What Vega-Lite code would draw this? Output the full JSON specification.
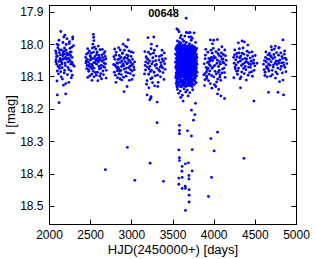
{
"$schema": "https://vega.github.io/schema/vega-lite/v6.json",
"width": 247, "height": 219,
"autosize": {"type": "none"},
"padding": {"left": 49, "top": 5, "right": 20, "bottom": 35},
"config": {"view": {"stroke": "#000", "strokeWidth": 1}, "font": "Liberation Sans"},
"title": {"text": "00648", "font": "Liberation Sans", "fontSize": 11, "fontWeight": "bold", "color": "#000", "anchor": "middle", "baseline": "alphabetic", "offset": 0, "dx": -9, "dy": 23},
"data": {"values": [
{"hjd":2080,"mag":18.021},{"hjd":2212,"mag":18.047},{"hjd":2143,"mag":17.961},{"hjd":2265,"mag":18.062},{"hjd":2101,"mag":18.083},{"hjd":2188,"mag":18.012},{"hjd":2236,"mag":18.031},{"hjd":2119,"mag":18.054},{"hjd":2297,"mag":18.005},{"hjd":2160,"mag":18.073},{"hjd":2091,"mag":18.039},{"hjd":2224,"mag":18.094},{"hjd":2173,"mag":18.028},{"hjd":2250,"mag":17.992},{"hjd":2133,"mag":18.066},{"hjd":2281,"mag":18.041},{"hjd":2107,"mag":18.011},{"hjd":2196,"mag":18.058},{"hjd":2149,"mag":18.101},{"hjd":2270,"mag":18.024},{"hjd":2085,"mag":18.048},{"hjd":2218,"mag":17.983},{"hjd":2166,"mag":18.036},{"hjd":2243,"mag":18.079},{"hjd":2125,"mag":18.017},{"hjd":2290,"mag":18.063},{"hjd":2178,"mag":18.045},{"hjd":2097,"mag":18.114},{"hjd":2206,"mag":18.019},{"hjd":2258,"mag":18.052},{"hjd":2139,"mag":18.033},{"hjd":2229,"mag":18.072},{"hjd":2113,"mag":18.003},{"hjd":2184,"mag":18.089},{"hjd":2276,"mag":18.009},{"hjd":2155,"mag":18.057},{"hjd":2088,"mag":18.029},{"hjd":2240,"mag":18.118},{"hjd":2201,"mag":18.041},{"hjd":2128,"mag":18.075},{"hjd":2262,"mag":18.035},{"hjd":2170,"mag":17.995},{"hjd":2305,"mag":18.068},{"hjd":2146,"mag":18.051},{"hjd":2215,"mag":18.027},{"hjd":2094,"mag":18.062},{"hjd":2190,"mag":18.081},{"hjd":2254,"mag":18.013},{"hjd":2136,"mag":18.044},{"hjd":2283,"mag":18.096},{"hjd":2179,"mag":18.022},{"hjd":2103,"mag":18.037},{"hjd":2232,"mag":18.055},{"hjd":2163,"mag":18.108},{"hjd":2121,"mag":17.988},{"hjd":2247,"mag":18.046},{"hjd":2198,"mag":18.066},{"hjd":2288,"mag":17.978},{"hjd":2151,"mag":18.018},{"hjd":2083,"mag":18.055},{"hjd":2222,"mag":18.034},{"hjd":2175,"mag":18.127},{"hjd":2268,"mag":18.083},{"hjd":2131,"mag":18.049},{"hjd":2208,"mag":18.001},{"hjd":2116,"mag":18.092},{"hjd":2193,"mag":17.972},{"hjd":2256,"mag":18.025},{"hjd":2158,"mag":18.061},{"hjd":2099,"mag":18.0},{"hjd":2237,"mag":18.043},{"hjd":2142,"mag":18.085},{"hjd":2279,"mag":18.056},{"hjd":2186,"mag":18.031},{"hjd":2110,"mag":18.069},{"hjd":2203,"mag":18.122},{"hjd":2245,"mag":17.998},{"hjd":2168,"mag":18.047},{"hjd":2126,"mag":18.026},{"hjd":2271,"mag":18.104},
{"hjd":2101,"mag":18.157},{"hjd":2203,"mag":18.154},{"hjd":2122,"mag":18.181},{"hjd":2179,"mag":17.978},{"hjd":2288,"mag":17.984},
{"hjd":2445,"mag":18.041},{"hjd":2580,"mag":18.062},{"hjd":2512,"mag":18.028},{"hjd":2655,"mag":18.083},{"hjd":2478,"mag":18.055},{"hjd":2620,"mag":18.017},{"hjd":2548,"mag":18.074},{"hjd":2690,"mag":18.046},{"hjd":2495,"mag":18.098},{"hjd":2605,"mag":18.035},{"hjd":2462,"mag":18.066},{"hjd":2570,"mag":18.051},{"hjd":2638,"mag":18.107},{"hjd":2527,"mag":18.012},{"hjd":2672,"mag":18.059},{"hjd":2486,"mag":18.079},{"hjd":2591,"mag":18.043},{"hjd":2540,"mag":18.025},{"hjd":2660,"mag":18.069},{"hjd":2503,"mag":18.049},{"hjd":2628,"mag":18.091},{"hjd":2455,"mag":18.031},{"hjd":2563,"mag":18.088},{"hjd":2683,"mag":18.038},{"hjd":2519,"mag":18.063},{"hjd":2598,"mag":18.006},{"hjd":2471,"mag":18.103},{"hjd":2645,"mag":18.053},{"hjd":2535,"mag":18.044},{"hjd":2612,"mag":18.077},{"hjd":2490,"mag":18.021},{"hjd":2575,"mag":18.096},{"hjd":2667,"mag":18.029},{"hjd":2508,"mag":18.071},{"hjd":2449,"mag":18.058},{"hjd":2557,"mag":18.038},{"hjd":2633,"mag":18.065},{"hjd":2697,"mag":18.081},{"hjd":2523,"mag":18.112},{"hjd":2585,"mag":18.024},{"hjd":2466,"mag":18.047},{"hjd":2650,"mag":18.041},{"hjd":2543,"mag":18.057},{"hjd":2617,"mag":18.099},{"hjd":2499,"mag":18.036},{"hjd":2676,"mag":18.072},{"hjd":2568,"mag":18.015},{"hjd":2482,"mag":18.084},{"hjd":2602,"mag":18.055},{"hjd":2530,"mag":18.067},{"hjd":2641,"mag":18.033},{"hjd":2458,"mag":18.076},{"hjd":2593,"mag":18.113},{"hjd":2515,"mag":18.045},{"hjd":2686,"mag":18.061},{"hjd":2552,"mag":18.009},{"hjd":2624,"mag":18.048},{"hjd":2474,"mag":18.027},{"hjd":2661,"mag":18.094},{"hjd":2538,"mag":18.084},{"hjd":2607,"mag":18.069},{"hjd":2493,"mag":18.062},{"hjd":2579,"mag":18.032},{"hjd":2648,"mag":18.016},{"hjd":2520,"mag":18.093},{"hjd":2452,"mag":18.052},{"hjd":2566,"mag":18.046},{"hjd":2694,"mag":18.105},{"hjd":2504,"mag":18.039},{"hjd":2631,"mag":18.074},{"hjd":2588,"mag":18.087},{"hjd":2469,"mag":18.014},{"hjd":2547,"mag":18.101},{"hjd":2665,"mag":18.048},{"hjd":2525,"mag":18.076},{"hjd":2615,"mag":18.042},{"hjd":2484,"mag":18.068},{"hjd":2679,"mag":18.023},{"hjd":2560,"mag":18.058},{"hjd":2596,"mag":18.05},
{"hjd":2539,"mag":17.970},{"hjd":2542,"mag":17.979},{"hjd":2545,"mag":17.989},{"hjd":2533,"mag":18.0},
{"hjd":2785,"mag":18.063},{"hjd":2920,"mag":18.041},{"hjd":2851,"mag":18.078},{"hjd":2993,"mag":18.057},{"hjd":2816,"mag":18.025},{"hjd":2958,"mag":18.089},{"hjd":2886,"mag":18.052},{"hjd":3030,"mag":18.071},{"hjd":2832,"mag":18.104},{"hjd":2943,"mag":18.033},{"hjd":2800,"mag":18.047},{"hjd":2908,"mag":18.067},{"hjd":2976,"mag":18.112},{"hjd":2865,"mag":18.018},{"hjd":3010,"mag":18.083},{"hjd":2824,"mag":18.058},{"hjd":2929,"mag":18.006},{"hjd":2878,"mag":18.094},{"hjd":2998,"mag":18.038},{"hjd":2841,"mag":18.072},{"hjd":2966,"mag":18.049},{"hjd":2793,"mag":18.087},{"hjd":2901,"mag":18.061},{"hjd":3021,"mag":18.026},{"hjd":2857,"mag":18.045},{"hjd":2936,"mag":18.099},{"hjd":2810,"mag":18.034},{"hjd":2983,"mag":18.068},{"hjd":2872,"mag":18.081},{"hjd":3040,"mag":18.055},{"hjd":2846,"mag":18.011},{"hjd":2913,"mag":18.077},{"hjd":2950,"mag":18.043},{"hjd":2806,"mag":18.096},{"hjd":2893,"mag":18.029},{"hjd":3004,"mag":18.065},{"hjd":2836,"mag":18.059},{"hjd":2971,"mag":18.021},{"hjd":2862,"mag":18.107},{"hjd":2924,"mag":18.054},{"hjd":2788,"mag":18.039},{"hjd":2988,"mag":18.091},{"hjd":2881,"mag":18.069},{"hjd":3015,"mag":18.047},{"hjd":2829,"mag":18.082},{"hjd":2945,"mag":18.061},{"hjd":2797,"mag":18.015},{"hjd":2904,"mag":18.102},{"hjd":2962,"mag":18.036},{"hjd":2868,"mag":18.056},{"hjd":3026,"mag":18.097},{"hjd":2819,"mag":18.07},{"hjd":2939,"mag":18.074},{"hjd":2890,"mag":18.027},{"hjd":2980,"mag":18.051},{"hjd":2849,"mag":18.092},{"hjd":2916,"mag":18.019},{"hjd":3008,"mag":18.109},{"hjd":2804,"mag":18.066},{"hjd":2955,"mag":18.058},{"hjd":2875,"mag":18.041},{"hjd":3035,"mag":18.079},{"hjd":2838,"mag":18.048},{"hjd":2931,"mag":18.086},{"hjd":2896,"mag":18.063},{"hjd":2813,"mag":18.118},{"hjd":2969,"mag":18.073},{"hjd":2854,"mag":18.035},{"hjd":2999,"mag":18.024},{"hjd":2884,"mag":18.111},{"hjd":2947,"mag":18.009},{"hjd":2826,"mag":18.073},{"hjd":2911,"mag":18.045},{"hjd":3018,"mag":18.062},{"hjd":2860,"mag":18.084},{"hjd":2990,"mag":18.079},
{"hjd":2961,"mag":17.987},{"hjd":2900,"mag":18.0},{"hjd":2912,"mag":18.147},{"hjd":2948,"mag":18.131},
{"hjd":3160,"mag":18.092},{"hjd":3295,"mag":18.051},{"hjd":3226,"mag":18.068},{"hjd":3368,"mag":18.034},{"hjd":3191,"mag":18.113},{"hjd":3333,"mag":18.079},{"hjd":3261,"mag":18.042},{"hjd":3405,"mag":18.061},{"hjd":3207,"mag":18.025},{"hjd":3318,"mag":18.096},{"hjd":3175,"mag":18.055},{"hjd":3283,"mag":18.129},{"hjd":3351,"mag":18.071},{"hjd":3240,"mag":18.014},{"hjd":3385,"mag":18.088},{"hjd":3199,"mag":18.047},{"hjd":3304,"mag":18.063},{"hjd":3253,"mag":18.104},{"hjd":3373,"mag":18.019},{"hjd":3216,"mag":18.076},{"hjd":3341,"mag":18.038},{"hjd":3168,"mag":18.066},{"hjd":3276,"mag":18.087},{"hjd":3396,"mag":18.109},{"hjd":3232,"mag":18.031},{"hjd":3358,"mag":18.057},{"hjd":3185,"mag":18.124},{"hjd":3311,"mag":18.006},{"hjd":3246,"mag":18.081},{"hjd":3414,"mag":18.045},{"hjd":3203,"mag":18.059},{"hjd":3326,"mag":18.118},{"hjd":3268,"mag":18.028},{"hjd":3380,"mag":18.073},{"hjd":3179,"mag":18.039},{"hjd":3290,"mag":18.098},{"hjd":3222,"mag":18.052},{"hjd":3346,"mag":18.084},{"hjd":3257,"mag":18.119},{"hjd":3400,"mag":18.027},{"hjd":3195,"mag":18.071},{"hjd":3336,"mag":18.049},{"hjd":3210,"mag":18.093},{"hjd":3299,"mag":18.037},{"hjd":3363,"mag":18.066},{"hjd":3237,"mag":18.107},{"hjd":3172,"mag":18.08},{"hjd":3280,"mag":18.019},{"hjd":3390,"mag":18.053},{"hjd":3249,"mag":18.061},{"hjd":3321,"mag":18.131},{"hjd":3188,"mag":18.043},{"hjd":3354,"mag":18.101},{"hjd":3230,"mag":18.085},{"hjd":3410,"mag":18.078},{"hjd":3264,"mag":18.054},{"hjd":3307,"mag":18.074},{"hjd":3164,"mag":18.023},{"hjd":3376,"mag":18.046},{"hjd":3213,"mag":18.135},{"hjd":3288,"mag":18.066},
{"hjd":3202,"mag":17.98},{"hjd":3272,"mag":17.978},{"hjd":3243,"mag":18.0},{"hjd":3313,"mag":18.179},{"hjd":3192,"mag":18.157},{"hjd":3236,"mag":18.167},{"hjd":3240,"mag":18.162},{"hjd":3224,"mag":18.172},
{"hjd":3538,"mag":18.031},{"hjd":3538,"mag":18.072},{"hjd":3539,"mag":18.104},{"hjd":3537,"mag":18.056},{"hjd":3540,"mag":18.013},
{"hjd":3545,"mag":18.044},{"hjd":3544,"mag":18.089},{"hjd":3546,"mag":18.018},{"hjd":3545,"mag":18.121},{"hjd":3547,"mag":18.066},{"hjd":3543,"mag":18.098},
{"hjd":3551,"mag":18.007},{"hjd":3552,"mag":18.052},{"hjd":3550,"mag":18.079},{"hjd":3553,"mag":18.035},{"hjd":3551,"mag":18.113},{"hjd":3549,"mag":18.094},{"hjd":3552,"mag":18.128},
{"hjd":3558,"mag":18.024},{"hjd":3557,"mag":18.061},{"hjd":3559,"mag":18.047},{"hjd":3558,"mag":18.086},{"hjd":3560,"mag":18.011},{"hjd":3556,"mag":18.108},{"hjd":3559,"mag":18.071},{"hjd":3558,"mag":18.133},
{"hjd":3564,"mag":18.039},{"hjd":3565,"mag":18.002},{"hjd":3563,"mag":18.075},{"hjd":3566,"mag":18.117},{"hjd":3564,"mag":18.058},{"hjd":3562,"mag":18.091},{"hjd":3565,"mag":18.027},{"hjd":3564,"mag":18.066},
{"hjd":3571,"mag":18.015},{"hjd":3570,"mag":18.049},{"hjd":3572,"mag":18.083},{"hjd":3571,"mag":18.102},{"hjd":3573,"mag":18.036},{"hjd":3569,"mag":18.126},{"hjd":3571,"mag":18.064},{"hjd":3572,"mag":18.009},{"hjd":3570,"mag":18.095},
{"hjd":3577,"mag":18.057},{"hjd":3578,"mag":18.021},{"hjd":3576,"mag":18.088},{"hjd":3577,"mag":18.043},{"hjd":3579,"mag":18.119},{"hjd":3578,"mag":18.074},{"hjd":3576,"mag":18.005},{"hjd":3577,"mag":18.099},{"hjd":3579,"mag":18.033},
{"hjd":3584,"mag":18.069},{"hjd":3583,"mag":18.012},{"hjd":3585,"mag":18.046},{"hjd":3584,"mag":18.091},{"hjd":3586,"mag":18.128},{"hjd":3582,"mag":18.028},{"hjd":3584,"mag":18.081},{"hjd":3585,"mag":18.054},{"hjd":3583,"mag":18.107},{"hjd":3584,"mag":17.994},
{"hjd":3590,"mag":18.038},{"hjd":3591,"mag":18.077},{"hjd":3589,"mag":18.003},{"hjd":3590,"mag":18.114},{"hjd":3592,"mag":18.061},{"hjd":3590,"mag":18.022},{"hjd":3588,"mag":18.097},{"hjd":3591,"mag":18.049},{"hjd":3590,"mag":18.085},
{"hjd":3597,"mag":18.026},{"hjd":3596,"mag":18.063},{"hjd":3598,"mag":18.109},{"hjd":3597,"mag":18.041},{"hjd":3599,"mag":18.008},{"hjd":3595,"mag":18.079},{"hjd":3597,"mag":18.131},{"hjd":3598,"mag":18.052},{"hjd":3596,"mag":18.093},{"hjd":3597,"mag":18.017},
{"hjd":3603,"mag":18.048},{"hjd":3604,"mag":18.086},{"hjd":3602,"mag":18.014},{"hjd":3603,"mag":18.071},{"hjd":3605,"mag":18.119},{"hjd":3603,"mag":18.035},{"hjd":3601,"mag":18.059},{"hjd":3604,"mag":18.102},{"hjd":3603,"mag":17.997},
{"hjd":3610,"mag":18.006},{"hjd":3609,"mag":18.044},{"hjd":3611,"mag":18.067},{"hjd":3610,"mag":18.092},{"hjd":3612,"mag":18.024},{"hjd":3608,"mag":18.113},{"hjd":3610,"mag":18.078},{"hjd":3611,"mag":18.053},{"hjd":3609,"mag":18.132},{"hjd":3610,"mag":18.031},
{"hjd":3616,"mag":18.073},{"hjd":3617,"mag":18.019},{"hjd":3615,"mag":18.055},{"hjd":3616,"mag":18.097},{"hjd":3618,"mag":18.039},{"hjd":3616,"mag":18.124},{"hjd":3614,"mag":18.062},{"hjd":3617,"mag":18.011},{"hjd":3616,"mag":18.084},
{"hjd":3623,"mag":18.029},{"hjd":3622,"mag":18.058},{"hjd":3624,"mag":18.101},{"hjd":3623,"mag":18.045},{"hjd":3625,"mag":18.004},{"hjd":3621,"mag":18.088},{"hjd":3623,"mag":18.069},{"hjd":3624,"mag":18.117},{"hjd":3622,"mag":18.036},{"hjd":3623,"mag":18.076},
{"hjd":3629,"mag":18.051},{"hjd":3630,"mag":18.016},{"hjd":3628,"mag":18.082},{"hjd":3629,"mag":18.111},{"hjd":3631,"mag":18.033},{"hjd":3629,"mag":18.065},{"hjd":3627,"mag":18.094},{"hjd":3630,"mag":18.008},{"hjd":3629,"mag":18.126},{"hjd":3628,"mag":18.047},
{"hjd":3636,"mag":18.009},{"hjd":3635,"mag":18.042},{"hjd":3637,"mag":18.074},{"hjd":3636,"mag":18.098},{"hjd":3638,"mag":18.026},{"hjd":3634,"mag":18.119},{"hjd":3636,"mag":18.057},{"hjd":3637,"mag":18.086},{"hjd":3635,"mag":18.063},{"hjd":3636,"mag":17.991},
{"hjd":3642,"mag":18.064},{"hjd":3643,"mag":18.031},{"hjd":3641,"mag":18.089},{"hjd":3642,"mag":18.013},{"hjd":3644,"mag":18.106},{"hjd":3642,"mag":18.052},{"hjd":3640,"mag":18.077},{"hjd":3643,"mag":18.039},{"hjd":3642,"mag":18.128},{"hjd":3641,"mag":18.095},
{"hjd":3649,"mag":18.021},{"hjd":3648,"mag":18.047},{"hjd":3650,"mag":18.083},{"hjd":3649,"mag":18.059},{"hjd":3651,"mag":18.115},{"hjd":3647,"mag":18.002},{"hjd":3649,"mag":18.072},{"hjd":3650,"mag":18.036},{"hjd":3648,"mag":18.099},{"hjd":3649,"mag":18.066},
{"hjd":3655,"mag":18.037},{"hjd":3656,"mag":18.071},{"hjd":3654,"mag":18.012},{"hjd":3655,"mag":18.093},{"hjd":3657,"mag":18.054},{"hjd":3655,"mag":18.121},{"hjd":3653,"mag":18.028},{"hjd":3656,"mag":18.081},{"hjd":3655,"mag":18.045},{"hjd":3654,"mag":18.108},
{"hjd":3662,"mag":18.056},{"hjd":3661,"mag":18.018},{"hjd":3663,"mag":18.087},{"hjd":3662,"mag":18.041},{"hjd":3664,"mag":18.103},{"hjd":3660,"mag":18.067},{"hjd":3662,"mag":18.007},{"hjd":3663,"mag":18.131},{"hjd":3661,"mag":18.079},{"hjd":3662,"mag":18.032},
{"hjd":3668,"mag":18.025},{"hjd":3669,"mag":18.062},{"hjd":3667,"mag":18.096},{"hjd":3668,"mag":18.049},{"hjd":3670,"mag":18.014},{"hjd":3668,"mag":18.113},{"hjd":3666,"mag":18.074},{"hjd":3669,"mag":18.038},{"hjd":3668,"mag":18.088},{"hjd":3667,"mag":17.995},
{"hjd":3675,"mag":18.043},{"hjd":3674,"mag":18.079},{"hjd":3676,"mag":18.006},{"hjd":3675,"mag":18.058},{"hjd":3677,"mag":18.124},{"hjd":3673,"mag":18.091},{"hjd":3675,"mag":18.023},{"hjd":3676,"mag":18.067},{"hjd":3674,"mag":18.101},{"hjd":3675,"mag":18.051},
{"hjd":3681,"mag":18.068},{"hjd":3682,"mag":18.029},{"hjd":3680,"mag":18.084},{"hjd":3681,"mag":18.015},{"hjd":3683,"mag":18.047},{"hjd":3681,"mag":18.109},{"hjd":3679,"mag":18.057},{"hjd":3682,"mag":18.092},{"hjd":3681,"mag":18.036},{"hjd":3680,"mag":18.127},
{"hjd":3688,"mag":18.011},{"hjd":3687,"mag":18.053},{"hjd":3689,"mag":18.076},{"hjd":3688,"mag":18.102},{"hjd":3690,"mag":18.033},{"hjd":3686,"mag":18.064},{"hjd":3688,"mag":18.119},{"hjd":3689,"mag":18.041},{"hjd":3687,"mag":18.087},{"hjd":3688,"mag":18.022},
{"hjd":3694,"mag":18.046},{"hjd":3695,"mag":18.083},{"hjd":3693,"mag":18.019},{"hjd":3694,"mag":18.071},{"hjd":3696,"mag":18.097},{"hjd":3694,"mag":18.038},{"hjd":3692,"mag":18.128},{"hjd":3695,"mag":18.061},{"hjd":3694,"mag":18.005},{"hjd":3693,"mag":18.112},
{"hjd":3701,"mag":18.027},{"hjd":3700,"mag":18.066},{"hjd":3702,"mag":18.048},{"hjd":3701,"mag":18.094},{"hjd":3703,"mag":18.013},{"hjd":3699,"mag":18.079},{"hjd":3701,"mag":18.115},{"hjd":3702,"mag":18.055},{"hjd":3700,"mag":18.034},{"hjd":3701,"mag":18.089},
{"hjd":3707,"mag":18.059},{"hjd":3708,"mag":18.017},{"hjd":3706,"mag":18.081},{"hjd":3707,"mag":18.039},{"hjd":3709,"mag":18.106},{"hjd":3707,"mag":18.072},{"hjd":3705,"mag":18.044},{"hjd":3708,"mag":18.123},{"hjd":3707,"mag":18.008},{"hjd":3706,"mag":17.999},
{"hjd":3714,"mag":18.034},{"hjd":3713,"mag":18.075},{"hjd":3715,"mag":18.097},{"hjd":3714,"mag":18.052},{"hjd":3716,"mag":18.021},{"hjd":3712,"mag":18.111},{"hjd":3714,"mag":18.063},{"hjd":3715,"mag":18.087},{"hjd":3713,"mag":18.041},{"hjd":3714,"mag":18.129},
{"hjd":3720,"mag":18.049},{"hjd":3721,"mag":18.009},{"hjd":3719,"mag":18.068},{"hjd":3720,"mag":18.093},{"hjd":3722,"mag":18.031},{"hjd":3720,"mag":18.118},{"hjd":3718,"mag":18.057},{"hjd":3721,"mag":18.078},{"hjd":3720,"mag":18.016},{"hjd":3719,"mag":18.101},
{"hjd":3727,"mag":18.072},{"hjd":3726,"mag":18.026},{"hjd":3728,"mag":18.055},{"hjd":3727,"mag":18.104},{"hjd":3729,"mag":18.043},{"hjd":3725,"mag":18.086},{"hjd":3727,"mag":18.013},{"hjd":3728,"mag":18.126},{"hjd":3726,"mag":18.064},{"hjd":3727,"mag":17.988},
{"hjd":3733,"mag":18.018},{"hjd":3734,"mag":18.061},{"hjd":3732,"mag":18.089},{"hjd":3733,"mag":18.035},{"hjd":3735,"mag":18.115},{"hjd":3733,"mag":18.073},{"hjd":3731,"mag":18.047},{"hjd":3734,"mag":18.099},{"hjd":3733,"mag":18.004},
{"hjd":3740,"mag":18.053},{"hjd":3739,"mag":18.081},{"hjd":3741,"mag":18.028},{"hjd":3740,"mag":18.067},{"hjd":3742,"mag":18.109},{"hjd":3738,"mag":18.042},{"hjd":3740,"mag":18.094},{"hjd":3741,"mag":18.012},{"hjd":3739,"mag":18.131},
{"hjd":3746,"mag":18.037},{"hjd":3747,"mag":18.071},{"hjd":3745,"mag":18.006},{"hjd":3746,"mag":18.096},{"hjd":3748,"mag":18.058},{"hjd":3746,"mag":18.122},{"hjd":3744,"mag":18.024},{"hjd":3747,"mag":18.083},
{"hjd":3753,"mag":18.064},{"hjd":3752,"mag":18.019},{"hjd":3754,"mag":18.088},{"hjd":3753,"mag":18.046},{"hjd":3755,"mag":18.107},{"hjd":3751,"mag":18.033},{"hjd":3753,"mag":18.075},{"hjd":3754,"mag":18.054},
{"hjd":3759,"mag":18.029},{"hjd":3760,"mag":18.078},{"hjd":3758,"mag":18.051},{"hjd":3759,"mag":18.112},{"hjd":3761,"mag":18.008},{"hjd":3759,"mag":18.093},{"hjd":3757,"mag":18.066},{"hjd":3760,"mag":18.039},
{"hjd":3766,"mag":18.047},{"hjd":3765,"mag":18.085},{"hjd":3767,"mag":18.015},{"hjd":3766,"mag":18.069},{"hjd":3768,"mag":18.101},{"hjd":3764,"mag":18.035},{"hjd":3766,"mag":18.125},
{"hjd":3772,"mag":18.061},{"hjd":3773,"mag":18.026},{"hjd":3771,"mag":18.097},{"hjd":3772,"mag":18.052},{"hjd":3774,"mag":18.079},{"hjd":3772,"mag":18.011},{"hjd":3770,"mag":18.114},
{"hjd":3779,"mag":18.038},{"hjd":3778,"mag":18.073},{"hjd":3780,"mag":18.091},{"hjd":3779,"mag":18.021},{"hjd":3781,"mag":18.058},{"hjd":3777,"mag":18.106},
{"hjd":3785,"mag":18.056},{"hjd":3786,"mag":18.017},{"hjd":3784,"mag":18.083},{"hjd":3785,"mag":18.044},{"hjd":3787,"mag":18.119},{"hjd":3785,"mag":18.069},
{"hjd":3792,"mag":18.032},{"hjd":3791,"mag":18.075},{"hjd":3793,"mag":18.098},{"hjd":3792,"mag":18.051},{"hjd":3794,"mag":18.013},
{"hjd":3798,"mag":18.062},{"hjd":3797,"mag":18.041},{"hjd":3799,"mag":18.087},
{"hjd":3666,"mag":17.920},{"hjd":3568,"mag":17.956},{"hjd":3553,"mag":17.953},{"hjd":3580,"mag":17.962},{"hjd":3668,"mag":17.964},{"hjd":3690,"mag":17.965},{"hjd":3714,"mag":17.964},{"hjd":3763,"mag":17.965},{"hjd":3605,"mag":17.973},{"hjd":3727,"mag":17.978},{"hjd":3593,"mag":17.98},{"hjd":3650,"mag":17.975},{"hjd":3740,"mag":17.982},{"hjd":3700,"mag":17.978},{"hjd":3560,"mag":17.99},{"hjd":3780,"mag":17.995},{"hjd":3620,"mag":17.985},
{"hjd":3560,"mag":18.14},{"hjd":3595,"mag":18.145},{"hjd":3640,"mag":18.138},{"hjd":3680,"mag":18.142},{"hjd":3710,"mag":18.15},{"hjd":3575,"mag":18.152},{"hjd":3745,"mag":18.141},{"hjd":3620,"mag":18.158},{"hjd":3690,"mag":18.16},{"hjd":3660,"mag":18.148},{"hjd":3600,"mag":18.165},
{"hjd":3629,"mag":18.176},{"hjd":3779,"mag":18.183},{"hjd":3730,"mag":18.204},{"hjd":3772,"mag":18.218},{"hjd":3755,"mag":18.235},{"hjd":3584,"mag":18.251},{"hjd":3584,"mag":18.267},{"hjd":3682,"mag":18.268},{"hjd":3584,"mag":18.277},{"hjd":3730,"mag":18.284},{"hjd":4047,"mag":18.272},{"hjd":3966,"mag":18.292},{"hjd":3577,"mag":18.327},{"hjd":3739,"mag":18.326},{"hjd":4006,"mag":18.330},{"hjd":3584,"mag":18.351},{"hjd":3584,"mag":18.360},{"hjd":3657,"mag":18.370},{"hjd":3694,"mag":18.367},{"hjd":3617,"mag":18.378},{"hjd":3614,"mag":18.393},{"hjd":3739,"mag":18.392},{"hjd":3699,"mag":18.406},{"hjd":3699,"mag":18.417},{"hjd":3577,"mag":18.414},{"hjd":3617,"mag":18.412},{"hjd":3974,"mag":18.412},{"hjd":3577,"mag":18.433},{"hjd":3654,"mag":18.439},{"hjd":3617,"mag":18.446},{"hjd":3657,"mag":18.446},{"hjd":3702,"mag":18.450},{"hjd":3702,"mag":18.467},{"hjd":3937,"mag":18.471},{"hjd":3702,"mag":18.488},{"hjd":3657,"mag":18.514},
{"hjd":2685,"mag":18.388},{"hjd":2952,"mag":18.319},{"hjd":3042,"mag":18.421},{"hjd":3228,"mag":18.368},{"hjd":3313,"mag":18.243},{"hjd":3390,"mag":18.424},{"hjd":4368,"mag":18.353},
{"hjd":3885,"mag":18.061},{"hjd":4021,"mag":18.042},{"hjd":3952,"mag":18.083},{"hjd":4094,"mag":18.027},{"hjd":3917,"mag":18.106},{"hjd":4059,"mag":18.069},{"hjd":3987,"mag":18.051},{"hjd":4131,"mag":18.088},{"hjd":3900,"mag":18.034},{"hjd":4036,"mag":18.117},{"hjd":3968,"mag":18.019},{"hjd":4110,"mag":18.056},{"hjd":3933,"mag":18.074},{"hjd":4077,"mag":18.095},{"hjd":4005,"mag":18.038},{"hjd":4147,"mag":18.064},{"hjd":3893,"mag":18.091},{"hjd":4028,"mag":18.023},{"hjd":3959,"mag":18.122},{"hjd":4102,"mag":18.047},{"hjd":3925,"mag":18.057},{"hjd":4068,"mag":18.081},{"hjd":3995,"mag":18.013},{"hjd":4139,"mag":18.103},{"hjd":3908,"mag":18.072},{"hjd":4044,"mag":18.049},{"hjd":3975,"mag":18.097},{"hjd":4118,"mag":18.032},{"hjd":3941,"mag":18.044},{"hjd":4085,"mag":18.112},{"hjd":4013,"mag":18.066},{"hjd":3889,"mag":18.128},{"hjd":4052,"mag":18.029},{"hjd":3981,"mag":18.075},{"hjd":4124,"mag":18.058},{"hjd":3912,"mag":18.086},{"hjd":4062,"mag":18.017},{"hjd":3947,"mag":18.063},{"hjd":4090,"mag":18.039},{"hjd":4001,"mag":18.101},{"hjd":3929,"mag":18.025},{"hjd":4072,"mag":18.054},{"hjd":3964,"mag":18.048},{"hjd":4107,"mag":18.077},{"hjd":3896,"mag":18.045},{"hjd":4032,"mag":18.092},{"hjd":3991,"mag":18.071},{"hjd":4143,"mag":18.036},{"hjd":3938,"mag":18.113},{"hjd":4017,"mag":18.084},{"hjd":3972,"mag":18.041},{"hjd":4081,"mag":18.062},{"hjd":3904,"mag":18.016},{"hjd":4048,"mag":18.108},{"hjd":3955,"mag":18.052},{"hjd":4099,"mag":18.089},{"hjd":3921,"mag":18.079},{"hjd":4065,"mag":18.035},{"hjd":4009,"mag":18.125},{"hjd":4127,"mag":18.074},{"hjd":3944,"mag":18.093},{"hjd":3983,"mag":18.028},{"hjd":4040,"mag":18.059},{"hjd":4114,"mag":18.046},{"hjd":3914,"mag":18.099},{"hjd":4056,"mag":18.087},{"hjd":3962,"mag":18.067},{"hjd":4135,"mag":18.018},{"hjd":3935,"mag":18.055},{"hjd":4025,"mag":18.131},{"hjd":3998,"mag":18.044},{"hjd":4075,"mag":18.102},{"hjd":3880,"mag":18.095},{"hjd":3895,"mag":18.11},{"hjd":4152,"mag":18.05},
{"hjd":3960,"mag":17.987},{"hjd":4000,"mag":17.988},{"hjd":4045,"mag":17.986},{"hjd":3985,"mag":17.999},{"hjd":4100,"mag":18.008},{"hjd":4047,"mag":18.154},{"hjd":4088,"mag":18.16},{"hjd":4132,"mag":18.168},{"hjd":3978,"mag":18.136},{"hjd":4060,"mag":18.14},
{"hjd":4242,"mag":18.041},{"hjd":4375,"mag":18.058},{"hjd":4308,"mag":18.027},{"hjd":4447,"mag":18.072},{"hjd":4273,"mag":18.064},{"hjd":4412,"mag":18.035},{"hjd":4341,"mag":18.086},{"hjd":4485,"mag":18.049},{"hjd":4256,"mag":18.018},{"hjd":4391,"mag":18.079},{"hjd":4325,"mag":18.052},{"hjd":4466,"mag":18.024},{"hjd":4289,"mag":18.093},{"hjd":4428,"mag":18.061},{"hjd":4357,"mag":18.012},{"hjd":4499,"mag":18.067},{"hjd":4263,"mag":18.076},{"hjd":4401,"mag":18.046},{"hjd":4333,"mag":18.101},{"hjd":4473,"mag":18.038},{"hjd":4298,"mag":18.056},{"hjd":4437,"mag":18.088},{"hjd":4366,"mag":18.031},{"hjd":4249,"mag":18.059},{"hjd":4384,"mag":18.069},{"hjd":4317,"mag":18.042},{"hjd":4455,"mag":18.053},{"hjd":4280,"mag":18.029},{"hjd":4419,"mag":18.096},{"hjd":4348,"mag":18.047},{"hjd":4491,"mag":18.081},{"hjd":4268,"mag":18.048},{"hjd":4406,"mag":18.022},{"hjd":4338,"mag":18.066},{"hjd":4478,"mag":18.059},{"hjd":4303,"mag":18.074},{"hjd":4443,"mag":18.043},{"hjd":4371,"mag":18.091},{"hjd":4252,"mag":18.033},{"hjd":4395,"mag":18.054},{"hjd":4321,"mag":18.107},{"hjd":4461,"mag":18.085},{"hjd":4284,"mag":18.039},{"hjd":4424,"mag":18.071},{"hjd":4353,"mag":18.062},{"hjd":4504,"mag":18.035},{"hjd":4277,"mag":18.084},{"hjd":4416,"mag":18.057},{"hjd":4345,"mag":18.028},{"hjd":4470,"mag":18.099},{"hjd":4312,"mag":18.014},{"hjd":4450,"mag":18.063},{"hjd":4380,"mag":18.044},{"hjd":4259,"mag":18.071},{"hjd":4397,"mag":18.111},{"hjd":4329,"mag":18.037},{"hjd":4486,"mag":18.058},{"hjd":4294,"mag":18.082},{"hjd":4433,"mag":18.026},{"hjd":4362,"mag":18.075},
{"hjd":4300,"mag":17.996},{"hjd":4345,"mag":17.99},{"hjd":4372,"mag":17.993},{"hjd":4415,"mag":18.003},{"hjd":4245,"mag":18.104},{"hjd":4325,"mag":18.135},{"hjd":4489,"mag":18.176},
{"hjd":4605,"mag":18.062},{"hjd":4742,"mag":18.041},{"hjd":4671,"mag":18.083},{"hjd":4815,"mag":18.027},{"hjd":4638,"mag":18.055},{"hjd":4779,"mag":18.074},{"hjd":4706,"mag":18.018},{"hjd":4852,"mag":18.066},{"hjd":4621,"mag":18.097},{"hjd":4759,"mag":18.052},{"hjd":4688,"mag":18.036},{"hjd":4833,"mag":18.089},{"hjd":4654,"mag":18.046},{"hjd":4796,"mag":18.011},{"hjd":4723,"mag":18.071},{"hjd":4870,"mag":18.043},{"hjd":4613,"mag":18.079},{"hjd":4750,"mag":18.105},{"hjd":4679,"mag":18.029},{"hjd":4824,"mag":18.058},{"hjd":4646,"mag":18.068},{"hjd":4788,"mag":18.034},{"hjd":4714,"mag":18.094},{"hjd":4861,"mag":18.021},{"hjd":4630,"mag":18.041},{"hjd":4768,"mag":18.063},{"hjd":4697,"mag":18.054},{"hjd":4842,"mag":18.111},{"hjd":4662,"mag":18.076},{"hjd":4804,"mag":18.049},{"hjd":4731,"mag":18.032},{"hjd":4878,"mag":18.085},{"hjd":4617,"mag":18.051},{"hjd":4755,"mag":18.086},{"hjd":4684,"mag":18.065},{"hjd":4829,"mag":18.038},{"hjd":4650,"mag":18.101},{"hjd":4792,"mag":18.059},{"hjd":4719,"mag":18.045},{"hjd":4866,"mag":18.072},{"hjd":4634,"mag":18.024},{"hjd":4773,"mag":18.092},{"hjd":4701,"mag":18.039},{"hjd":4847,"mag":18.057},{"hjd":4666,"mag":18.061},{"hjd":4811,"mag":18.078},{"hjd":4737,"mag":18.015},{"hjd":4883,"mag":18.048},{"hjd":4625,"mag":18.087},{"hjd":4764,"mag":18.026},{"hjd":4692,"mag":18.099},{"hjd":4838,"mag":18.044},{"hjd":4658,"mag":18.033},{"hjd":4800,"mag":18.116},{"hjd":4727,"mag":18.064},{"hjd":4857,"mag":18.031},{"hjd":4642,"mag":18.073},{"hjd":4784,"mag":18.053},{"hjd":4710,"mag":18.081},{"hjd":4888,"mag":18.06},{"hjd":4675,"mag":18.047},{"hjd":4820,"mag":18.069},{"hjd":4746,"mag":18.058},
{"hjd":4841,"mag":17.987},{"hjd":4700,"mag":18.008},{"hjd":4750,"mag":18.006},{"hjd":4790,"mag":18.012},{"hjd":4667,"mag":18.149},{"hjd":4781,"mag":18.149},{"hjd":4849,"mag":18.157},{"hjd":4526,"mag":18.059}
]},
"layer": [
{"mark": {"type": "circle", "color": "#0000ff", "size": 8, "opacity": 1},
 "encoding": {
  "x": {"field": "hjd", "type": "quantitative", "scale": {"domain": [2000, 5000], "nice": false, "zero": false},
        "axis": {"title": "HJD(2450000+) [days]", "values": [2000,2500,3000,3500,4000,4500,5000], "format": "d", "grid": false, "labelFlush": false, "labelOverlap": false,
                 "tickSize": -5, "labelPadding": 10, "tickColor": "#000", "domainColor": "#000", "labelColor": "#000", "titleColor": "#000",
                 "labelFont": "Liberation Sans", "labelFontSize": 12, "titleFont": "Liberation Sans", "titleFontSize": 13, "titleFontWeight": "normal", "titlePadding": 3}},
  "y": {"field": "mag", "type": "quantitative", "scale": {"domain": [17.879, 18.556], "nice": false, "zero": false, "reverse": true},
        "axis": {"title": "I [mag]", "values": [17.9,18.0,18.1,18.2,18.3,18.4,18.5], "format": ".1f", "grid": false, "labelFlush": false, "labelOverlap": false,
                 "tickSize": -5, "labelPadding": 11, "tickColor": "#000", "domainColor": "#000", "labelColor": "#000", "titleColor": "#000",
                 "labelFont": "Liberation Sans", "labelFontSize": 12, "titleFont": "Liberation Sans", "titleFontSize": 13, "titleFontWeight": "normal", "titlePadding": 2}}
 }},
{"mark": {"type": "circle", "opacity": 0},
 "encoding": {
  "x": {"field": "hjd", "type": "quantitative", "axis": {"title": null, "labels": false, "values": [2000,2500,3000,3500,4000,4500,5000], "grid": false, "tickSize": -5, "tickColor": "#000", "domainColor": "#000"}},
  "y": {"field": "mag", "type": "quantitative", "axis": {"title": null, "labels": false, "values": [17.9,18.0,18.1,18.2,18.3,18.4,18.5], "grid": false, "tickSize": -5, "tickColor": "#000", "domainColor": "#000"}}
 }}
],
"resolve": {"axis": {"x": "independent", "y": "independent"}}
}
